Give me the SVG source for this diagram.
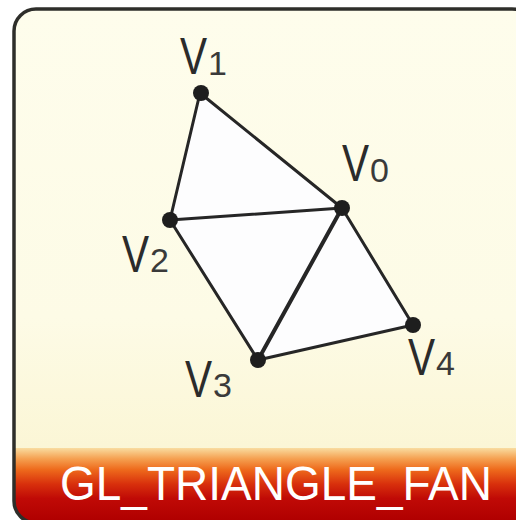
<svg xmlns="http://www.w3.org/2000/svg" width="516" height="520" viewBox="0 0 516 520">
<defs>
<linearGradient id="bg" x1="0" y1="0" x2="0" y2="1" gradientUnits="objectBoundingBox">
<stop offset="0" stop-color="#FEFDEC"/>
<stop offset="0.6" stop-color="#FDFBE6"/>
<stop offset="1" stop-color="#FAF3CC"/>
</linearGradient>
<linearGradient id="band" x1="0" y1="448" x2="0" y2="520" gradientUnits="userSpaceOnUse">
<stop offset="0" stop-color="#F9DCA0"/>
<stop offset="0.15" stop-color="#F5A050"/>
<stop offset="0.3" stop-color="#EE6A1C"/>
<stop offset="0.5" stop-color="#D8300C"/>
<stop offset="0.7" stop-color="#C00A06"/>
<stop offset="1" stop-color="#B00000"/>
</linearGradient>
<clipPath id="card"><rect x="14" y="9" width="520" height="514" rx="22"/></clipPath>
<style>
.edge{stroke:#262626;stroke-width:3;stroke-linecap:round;fill:none}
.dot{fill:#1e1e1e}
.v{font-family:"Liberation Sans",Arial,sans-serif;font-size:52px;fill:#2b2b2b}
.d{font-family:"Liberation Sans",Arial,sans-serif;font-size:34px;fill:#3a3a3a}
.title{font-family:"Liberation Sans",Arial,sans-serif;font-size:48px;fill:#ffffff}
</style>
</defs>
<rect x="0" y="0" width="516" height="520" fill="#ffffff"/>
<g clip-path="url(#card)">
<rect x="14" y="9" width="520" height="514" fill="url(#bg)"/>
<rect x="14" y="448" width="520" height="75" fill="url(#band)"/>
</g>
<rect x="14" y="9" width="520" height="514" rx="22" fill="none" stroke="#2e2e2a" stroke-width="3.5"/>
<g id="fill">
<polygon points="342,208 200,93 170,220 258,360 413,325" fill="#FDFDFE"/>
</g>
<g id="connectors">
<line class="edge" x1="200" y1="93" x2="342" y2="208"/>
<line class="edge" x1="200" y1="93" x2="170" y2="220"/>
<line class="edge" x1="170" y1="220" x2="342" y2="208"/>
<line class="edge" x1="170" y1="220" x2="258" y2="360"/>
<line class="edge" x1="258" y1="360" x2="342" y2="208" style="stroke-width:4"/>
<line class="edge" x1="258" y1="360" x2="413" y2="325"/>
<line class="edge" x1="413" y1="325" x2="342" y2="208"/>
</g>
<g id="v0"><circle class="dot" cx="342" cy="208" r="8"/><text class="v" transform="translate(342,181) scale(0.78,1)">V</text><text class="d" x="370" y="182">0</text></g>
<g id="v1"><circle class="dot" cx="201" cy="93" r="8"/><text class="v" transform="translate(180,74) scale(0.78,1)">V</text><text class="d" x="208" y="75">1</text></g>
<g id="v2"><circle class="dot" cx="170" cy="220" r="8"/><text class="v" transform="translate(122,272) scale(0.78,1)">V</text><text class="d" x="150" y="272">2</text></g>
<g id="v3"><circle class="dot" cx="258" cy="360" r="8"/><text class="v" transform="translate(185,397) scale(0.78,1)">V</text><text class="d" x="213" y="397">3</text></g>
<g id="v4"><circle class="dot" cx="413" cy="325" r="8"/><text class="v" transform="translate(408,375) scale(0.78,1)">V</text><text class="d" x="436" y="375">4</text></g>
<g id="title"><text class="title" x="60" y="500" textLength="432" lengthAdjust="spacingAndGlyphs">GL_TRIANGLE_FAN</text></g>
</svg>
